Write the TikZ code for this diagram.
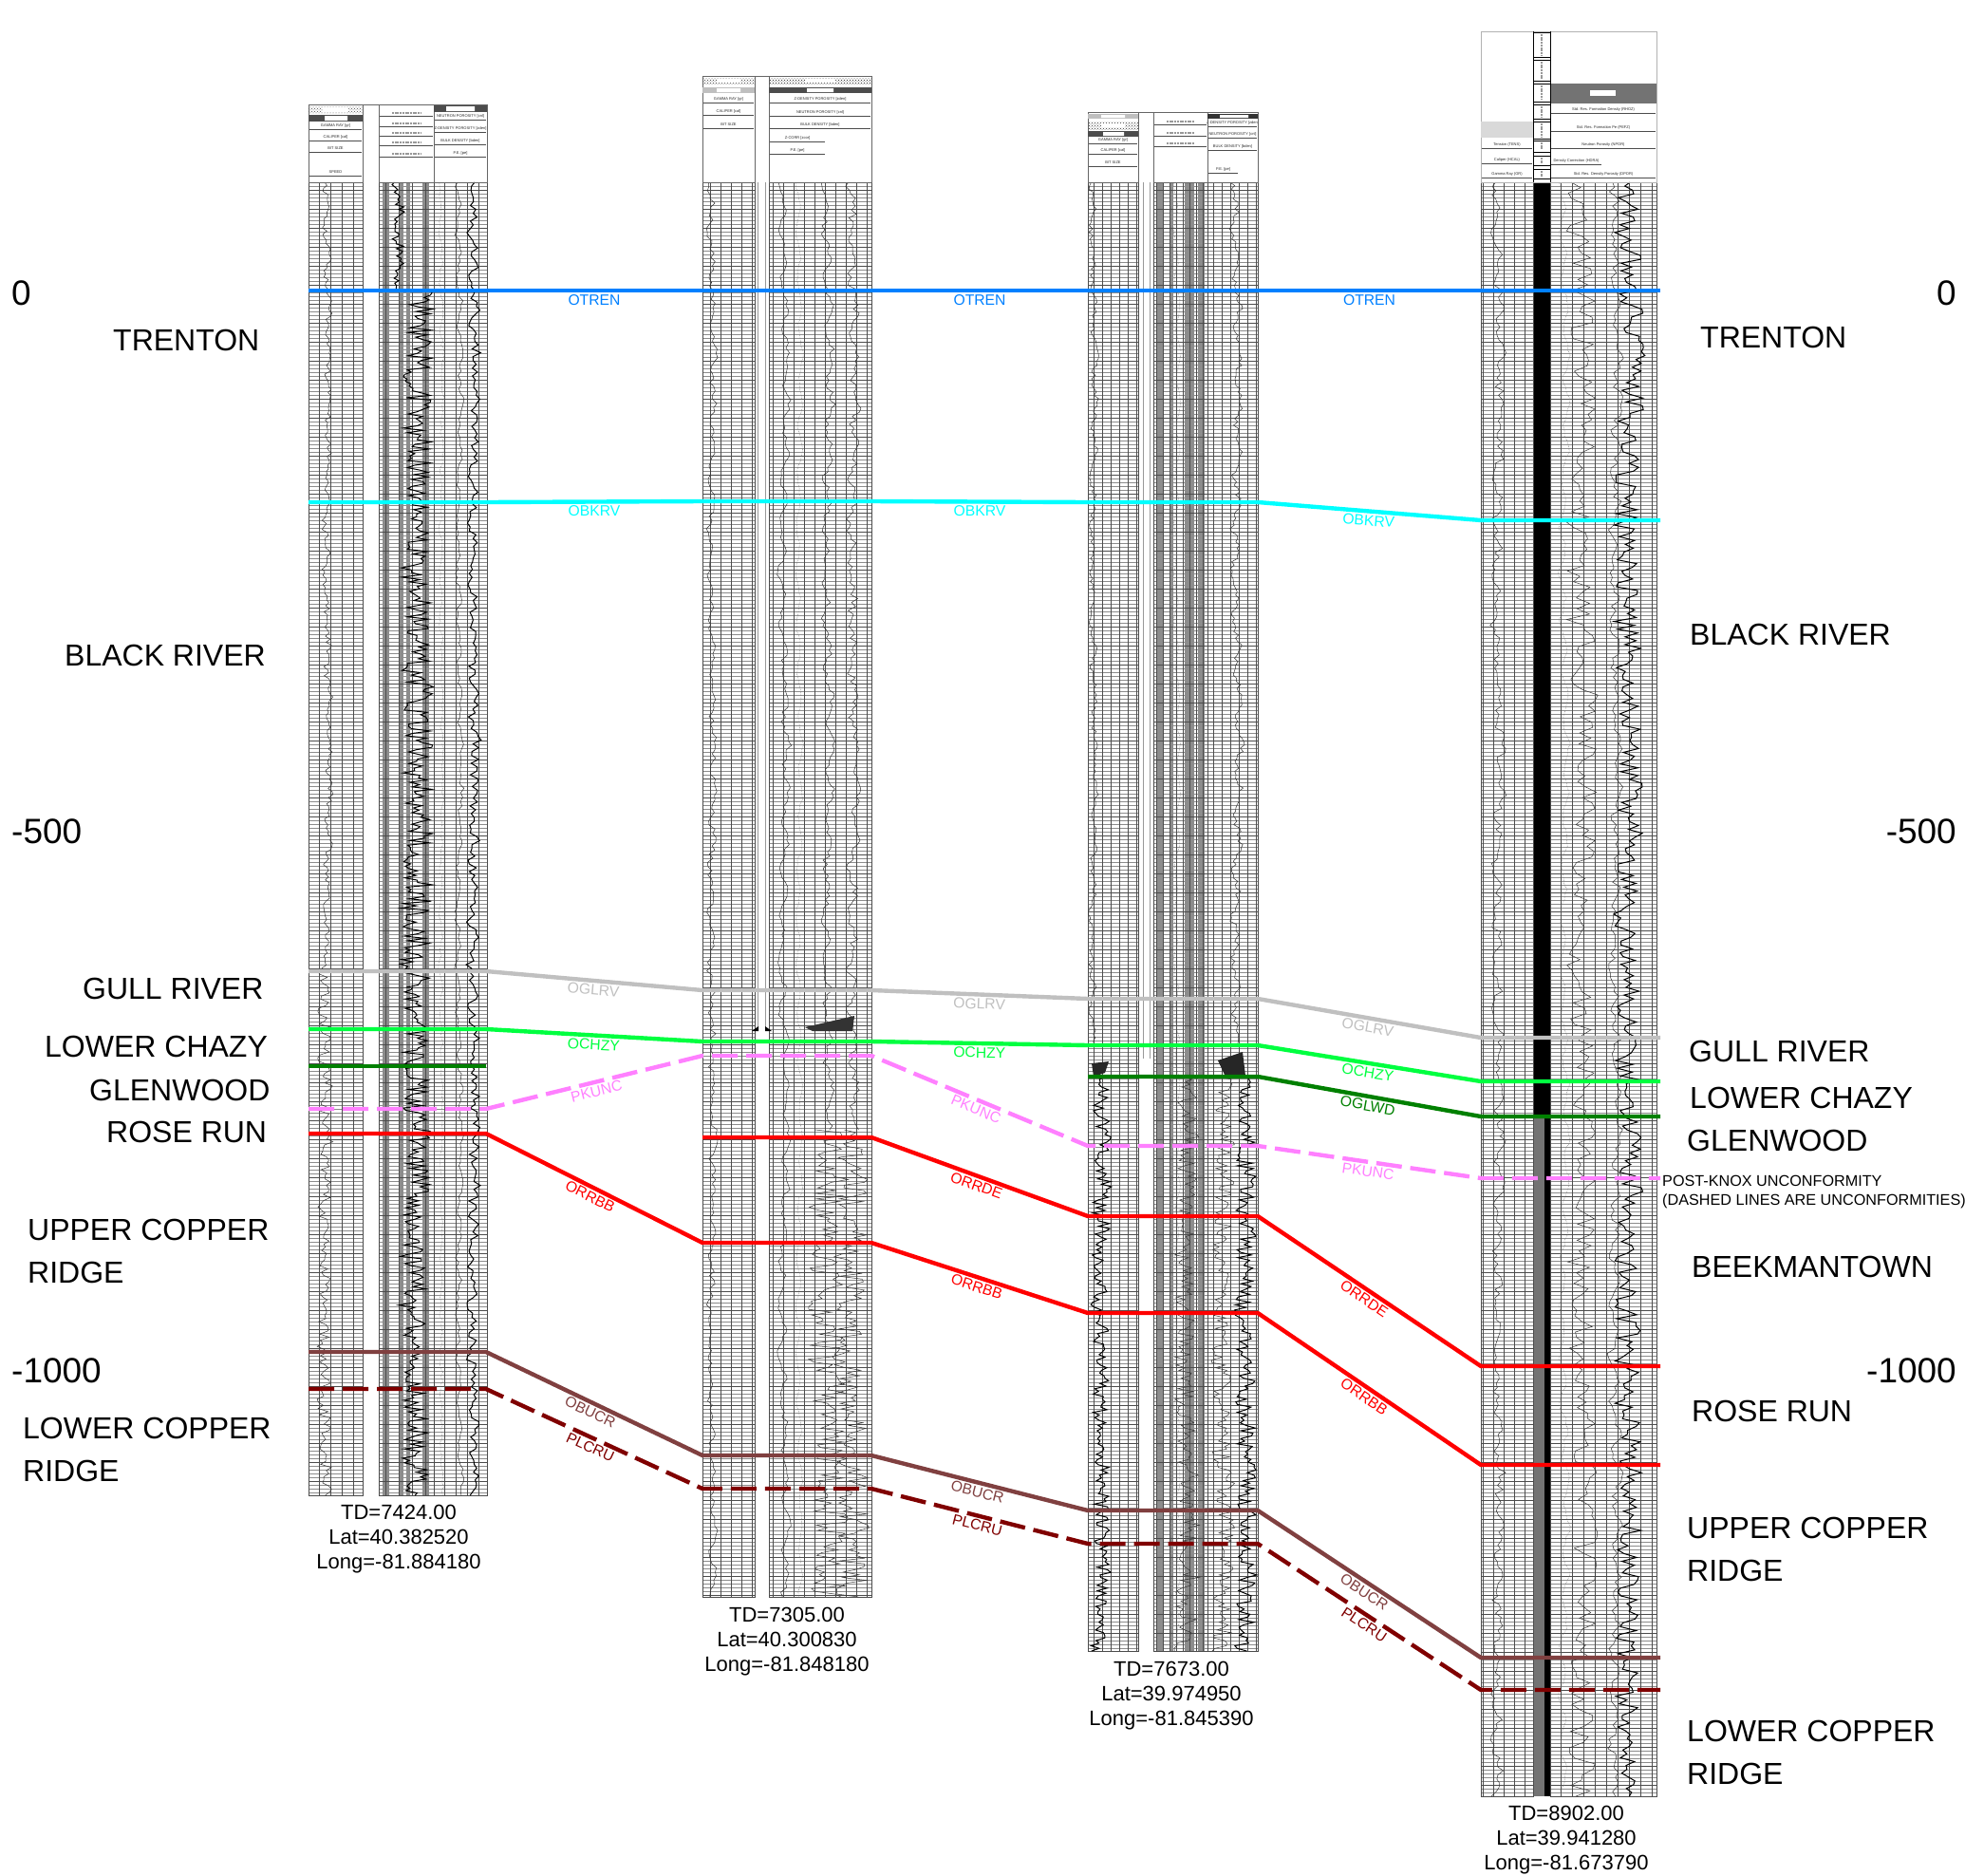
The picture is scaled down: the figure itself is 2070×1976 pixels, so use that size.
\documentclass[tikz,border=0pt]{standalone}
\usepackage{fontspec}
\setmainfont{Liberation Sans}
\usepackage{xcolor}
\usepackage{tikz}
\usetikzlibrary{patterns}
\usetikzlibrary{positioning}
\definecolor{otrencol}{HTML}{0080FF}
\definecolor{obkrvcol}{HTML}{00FFFF}
\definecolor{oglrvcol}{HTML}{C0C0C0}
\definecolor{ochzycol}{HTML}{00FF40}
\definecolor{oglwdcol}{HTML}{008000}
\definecolor{pkunccol}{HTML}{FF80FF}
\definecolor{redcol}{HTML}{FF0000}
\definecolor{obucrcol}{HTML}{804040}
\definecolor{plcrucol}{HTML}{800000}
\tikzset{
    gridlight/.style = {black!45, line width=.35pt},
    griddark/.style = {black!70, line width=.5pt},
    thinlog/.style = {black!80, line width=.5pt},
    thicklog/.style = {black, line width=1pt},
    dotlog/.style = {black!55, line width=.5pt, densely dotted},
    band/.style = {fill=black!45},
    gapline/.style = {black!40, line width=.6pt},
    headrule/.style = {black!70, line width=.4pt},
    headbox/.style = {black!60, line width=.7pt},
    headtext/.style = {font=\fontsize{4}{5}\selectfont, inner sep=0pt, black!85},
    smudge/.style = {black!40, line width=1.6pt, dash pattern=on 2pt off .7pt},
    hline/.style = {line width=4.4pt},
    hdash/.style = {line width=4.4pt, dash pattern=on 27pt off 9pt},
    hlabel/.style = {below, sloped, inner sep=2pt, font=\fontsize{15.7}{18}\selectfont},
    rocklabel/.style = {anchor=west, inner sep=0pt, align=left, font=\fontsize{32}{45}\selectfont},
    depthlabel/.style = {inner sep=0pt, font=\fontsize{37}{40}\selectfont},
    wellinfo/.style = {inner sep=0pt, align=center, font=\fontsize{22}{25.7}\selectfont},
    notelabel/.style = {anchor=west, inner sep=0pt, font=\fontsize{16.2}{20}\selectfont}
}
\newcommand{\logtrack}[5]{
    \draw[y=1pt,gridlight,xstep=5000,ystep=4] (#1,-#4) grid (#2,-#3);
    \draw[y=1pt,griddark,xstep=#5,ystep=20] (#1,-#4) grid (#2,-#3);
    \draw[griddark] (#1,#3) rectangle (#2,#4);
}
\newcommand{\logcurve}[7]{
    \draw[#1] plot[domain=#3:#4,samples=#7] ({#2+#5*(rnd-.5)+#6*sin(\x*7)+#6*.8*cos(\x*.9)},\x);
}
\newcommand{\horizon}[6]{
    \draw[#1] (325,#3) -- (512,#3) -- node[hlabel] {#2} (740,#4) -- (918,#4) -- node[hlabel] {#2} (1146,#5) -- (1325,#5) -- node[hlabel] {#2} (1560,#6) -- (1749,#6);
}
\begin{document}
\begin{tikzpicture}[x=1pt,y=-1pt]
    \useasboundingbox (0,0) rectangle (2070,1976);
    \pgfmathsetseed{4217}

    \foreach \bandl/\bandr in {403/410,420/425,428/432,445/452}
        \fill[band] (\bandl,192) rectangle (\bandr,1575);
    \logtrack{325}{382}{192}{1575}{12}
    \logtrack{399}{457}{192}{1575}{14}
    \logtrack{457}{513}{192}{1575}{12}
    \logcurve{thinlog}{345}{192}{1023}{6}{2}{260}
    \logcurve{thinlog}{342}{1023}{1575}{12}{2}{170}
    \logcurve{thicklog}{421}{192}{306}{10}{3}{45}
    \logcurve{thicklog}{440}{306}{1040}{30}{2}{300}
    \logcurve{thicklog}{437}{1040}{1575}{24}{3}{220}
    \logcurve{dotlog}{465}{192}{1575}{3}{1}{300}
    \logcurve{thinlog}{484}{192}{1575}{4}{2}{300}
    \logcurve{thicklog}{499}{192}{1575}{10}{2}{340}

    \logtrack{740}{795}{192}{1682}{11}
    \logtrack{810}{918}{192}{1682}{11}
    \draw[gapline] (798,192) -- (798,1085) (806,192) -- (806,1085);
    \logcurve{thinlog}{750}{192}{1682}{6}{2}{340}
    \logcurve{thinlog}{826}{192}{1682}{5}{3}{300}
    \logcurve{dotlog}{842}{192}{1682}{2}{2}{260}
    \logcurve{thinlog}{872}{192}{1190}{6}{3}{240}
    \logcurve{thinlog}{872}{1190}{1682}{36}{3}{170}
    \logcurve{thinlog}{899}{192}{1190}{8}{3}{240}
    \logcurve{thinlog}{896}{1190}{1682}{30}{3}{170}
    \fill[black!80] (848,1082) -- (900,1070) -- (898,1086) -- (856,1086) -- cycle;
    \fill[black] (792,1086) -- (799,1081) -- (799,1086) -- cycle (813,1086) -- (806,1081) -- (806,1086) -- cycle;

    \foreach \bandl/\bandr in {1219/1225,1232/1236,1248/1258,1262/1269}
        \fill[band] (\bandl,192) rectangle (\bandr,1739);
    \logtrack{1146}{1199}{192}{1739}{9}
    \logtrack{1215}{1272}{192}{1739}{7}
    \logtrack{1272}{1325}{192}{1739}{9}
    \draw[gapline] (1204,192) -- (1204,1115) (1211,192) -- (1211,1115);
    \logcurve{thinlog}{1152}{192}{1100}{5}{2}{260}
    \logcurve{thicklog}{1160}{1134}{1739}{16}{2}{220}
    \logcurve{thinlog}{1250}{1134}{1739}{20}{3}{220}
    \logcurve{dotlog}{1240}{192}{1739}{2}{2}{200}
    \logcurve{thinlog}{1303}{192}{1100}{6}{3}{260}
    \logcurve{thinlog}{1288}{1134}{1739}{18}{3}{220}
    \logcurve{thicklog}{1312}{1134}{1739}{18}{2}{220}
    \fill[black!85] (1150,1120) -- (1168,1118) -- (1164,1130) -- (1152,1134) -- cycle;
    \fill[black!85] (1283,1117) -- (1309,1108) -- (1312,1133) -- (1290,1132) -- cycle;

    \logtrack{1560}{1615}{192}{1892}{11}
    \logtrack{1633}{1745}{192}{1892}{12}
    \fill[black!70] (1616,192) rectangle (1628,1892);
    \fill[black] (1626,192) rectangle (1633,1892);
    \fill[black] (1616,192) rectangle (1628,1176);
    \fill[black!55] (1616,1176) rectangle (1627,1892);
    \logcurve{thinlog}{1578}{192}{1892}{8}{3}{380}
    \logcurve{dotlog}{1648}{192}{1892}{3}{3}{300}
    \logcurve{thinlog}{1668}{192}{1892}{24}{4}{300}
    \logcurve{thinlog}{1702}{192}{1892}{8}{3}{340}
    \logcurve{thicklog}{1716}{192}{1892}{24}{3}{420}

    % headers
    \draw[headbox] (325,110) rectangle (382,192) (382,110) -- (399,110) (399,110) rectangle (457,192) (457,110) rectangle (513,192);
    \fill[pattern=crosshatch dots, pattern color=black!70] (325,112) rectangle (382,119);
    \fill[black!70] (325,121) rectangle (382,128);
    \fill[black!70] (457,111) rectangle (513,118);
    \fill[white] (340,113) rectangle (367,118) (342,122) rectangle (366,127) (470,112) rectangle (500,117);
    \foreach \headname/\headl/\headr/\heady/\headlabel in {
        wag/325/382/132/GAMMA RAY [gr],
        wac/325/382/144/CALIPER [cal],
        wab/325/382/156/BIT SIZE,
        was/325/382/181/SPEED,
        wan/457/513/122/NEUTRON POROSITY [cnl],
        waz/457/513/135/Z-DENSITY POROSITY [zden],
        wad/457/513/148/BULK DENSITY [bden],
        wap/457/513/161/P.E. [pe],
        wbg/740/795/104/GAMMA RAY [gr],
        wbc/740/795/117/CALIPER [cal],
        wbb/740/795/131/BIT SIZE,
        wbz/810/918/104/Z-DENSITY POROSITY [zden],
        wbn/810/918/118/NEUTRON POROSITY [cnl],
        wbd/810/918/131/BULK DENSITY [bden],
        wbp/810/870/158/P.E. [pe],
        wbx/810/870/145/Z-CORR [zcor],
        wcg/1146/1199/147/GAMMA RAY [gr],
        wcc/1146/1199/158/CALIPER [cal],
        wcb/1146/1199/171/BIT SIZE,
        wcz/1272/1325/129/Z-DENSITY POROSITY [zden],
        wcn/1272/1325/141/NEUTRON POROSITY [cnl],
        wcd/1272/1325/154/BULK DENSITY [bden],
        wcp/1272/1305/178/P.E. [pe],
        wdt/1560/1615/152/Tension (TENS),
        wdc/1560/1615/168/Caliper (HCAL),
        wdg/1560/1615/183/Gamma Ray (GR),
        wdr/1633/1745/115/Std. Res. Formation Density (RHOZ),
        wdf/1633/1745/134/Std. Res. Formation Pe (PEFZ),
        wdn/1633/1745/152/Neutron Porosity (NPOR),
        wdh/1633/1688/169/Density Correction (HDRA),
        wdp/1633/1745/183/Std. Res. Density Porosity (DPOR)
    }{
        \node[headtext] (\headname) at ({(\headl+\headr)/2},\heady) {\headlabel};
        \draw[headrule] (\headl+1,\heady+4) -- (\headr-1,\heady+4);
    }
    \foreach \rulel/\ruler/\ruley in {399/457/122,399/457/133,399/457/143,399/457/153,399/457/165,1215/1272/131,1215/1272/143,1215/1272/154}{
        \draw[headrule] (\rulel+1,\ruley) -- (\ruler-1,\ruley);
        \draw[smudge] (\rulel+14,\ruley-3) -- (\ruler-14,\ruley-3);
    }

    \draw[headbox] (740,80) rectangle (795,192) (795,80) -- (810,80) (810,80) rectangle (918,192);
    \fill[pattern=crosshatch dots, pattern color=black!80] (740,82) rectangle (795,88);
    \fill[black!25] (740,92) rectangle (795,98);
    \fill[pattern=crosshatch dots, pattern color=black!90] (810,82) rectangle (918,88);
    \fill[black!70] (810,92) rectangle (918,98);
    \fill[white] (755,83) rectangle (780,87) (755,93) rectangle (780,97) (848,83) rectangle (880,87) (850,93) rectangle (878,97);

    \draw[headbox] (1146,118) rectangle (1199,192) (1199,118) -- (1215,118) (1215,118) rectangle (1272,192) (1272,118) rectangle (1325,192);
    \fill[black!25] (1146,120) rectangle (1199,125);
    \fill[pattern=crosshatch dots, pattern color=black!80] (1146,128) rectangle (1199,136);
    \fill[black!70] (1146,138) rectangle (1199,144);
    \fill[black!80] (1272,120) rectangle (1325,125);
    \fill[white] (1160,121) rectangle (1185,124) (1160,130) rectangle (1185,134) (1162,139) rectangle (1184,143) (1285,121) rectangle (1315,124);

    \draw[black!30, line width=.5pt] (1560,33) rectangle (1745,192);
    \fill[black!15] (1560,128) rectangle (1615,145);
    \fill[black!55] (1633,88) rectangle (1745,109);
    \fill[white] (1675,95) rectangle (1702,101);
    \foreach \headt/\headb in {34/60,63/85,88/107,110/125,128/146,148/160,164/174,178/188}{
        \draw[black, line width=.6pt] (1615,\headt) rectangle (1633,\headb);
        \draw[smudge] (1624,\headt+2) -- (1624,\headb-2);
    }
    \draw[black, line width=.6pt] (1615,33) -- (1615,192) (1633,33) -- (1633,192);

    % horizons
    \horizon{hline, color=otrencol}{OTREN}{306}{306}{306}{306}
    \horizon{hline, color=obkrvcol}{OBKRV}{529}{528}{529}{548}
    \horizon{hline, color=oglrvcol}{OGLRV}{1023}{1043}{1052}{1093}
    \horizon{hline, color=ochzycol}{OCHZY}{1084}{1097}{1101}{1139}
    \draw[hline, color=oglwdcol] (325,1123) -- (512,1123);
    \draw[hline, color=oglwdcol] (1146,1134) -- (1325,1134) -- node[hlabel] {OGLWD} (1560,1176) -- (1749,1176);
    \horizon{hdash, color=pkunccol}{PKUNC}{1168}{1112}{1207}{1241}
    \draw[hline, color=redcol] (740,1198) -- (918,1198) -- node[hlabel] {ORRDE} (1146,1281) -- (1325,1281) -- node[hlabel] {ORRDE} (1560,1439) -- (1749,1439);
    \horizon{hline, color=redcol}{ORRBB}{1194}{1309}{1383}{1543}
    \horizon{hline, color=obucrcol}{OBUCR}{1424}{1533}{1591}{1746}
    \horizon{hdash, color=plcrucol}{PLCRU}{1463}{1568}{1626}{1780}

    % depth scale
    \node[depthlabel, anchor=west] (depthleftzero) at (12,309) {0};
    \node[depthlabel, anchor=west] (depthleftmid) at (12,876) {-500};
    \node[depthlabel, anchor=west] (depthleftlow) at (12,1444) {-1000};
    \node[depthlabel, anchor=east] (depthrightzero) at (2061,309) {0};
    \node[depthlabel, anchor=east] (depthrightmid) at (2061,876) {-500};
    \node[depthlabel, anchor=east] (depthrightlow) at (2061,1444) {-1000};

    % formations
    \node[rocklabel] (trentonleft) at (119,358) {TRENTON};
    \node[rocklabel] (blackleft) at (68,690) {BLACK RIVER};
    \node[rocklabel] (gullleft) at (87,1041) {GULL RIVER};
    \node[rocklabel] (chazyleft) at (47,1102) {LOWER CHAZY};
    \node[rocklabel] (glenleft) at (94,1148) {GLENWOOD};
    \node[rocklabel] (roseleft) at (112,1192) {ROSE RUN};
    \node[rocklabel] (upperleft) at (29,1318) {UPPER COPPER\\RIDGE};
    \node[rocklabel] (lowerleft) at (24,1527) {LOWER COPPER\\RIDGE};
    \node[rocklabel] (trentonright) at (1791,355) {TRENTON};
    \node[rocklabel] (blackright) at (1780,668) {BLACK RIVER};
    \node[rocklabel] (gullright) at (1779,1107) {GULL RIVER};
    \node[rocklabel] (chazyright) at (1780,1156) {LOWER CHAZY};
    \node[rocklabel] (glenright) at (1777,1201) {GLENWOOD};
    \node[rocklabel] (beekright) at (1782,1334) {BEEKMANTOWN};
    \node[rocklabel] (roseright) at (1782,1486) {ROSE RUN};
    \node[rocklabel] (upperright) at (1777,1632) {UPPER COPPER\\RIDGE};
    \node[rocklabel] (lowerright) at (1777,1846) {LOWER COPPER\\RIDGE};
    \node[notelabel] (knoxnote) at (1751,1244) {POST-KNOX UNCONFORMITY};
    \node[notelabel] (dashnote) at (1751,1265) {(DASHED LINES ARE UNCONFORMITIES)};

    % well data
    \node[wellinfo] (wellone) at (420,1621) {TD=7424.00\\Lat=40.382520\\Long=-81.884180};
    \node[wellinfo] (welltwo) at (829,1729) {TD=7305.00\\Lat=40.300830\\Long=-81.848180};
    \node[wellinfo] (wellthree) at (1234,1786) {TD=7673.00\\Lat=39.974950\\Long=-81.845390};
    \node[wellinfo] (wellfour) at (1650,1938) {TD=8902.00\\Lat=39.941280\\Long=-81.673790};
\end{tikzpicture}
\end{document}
